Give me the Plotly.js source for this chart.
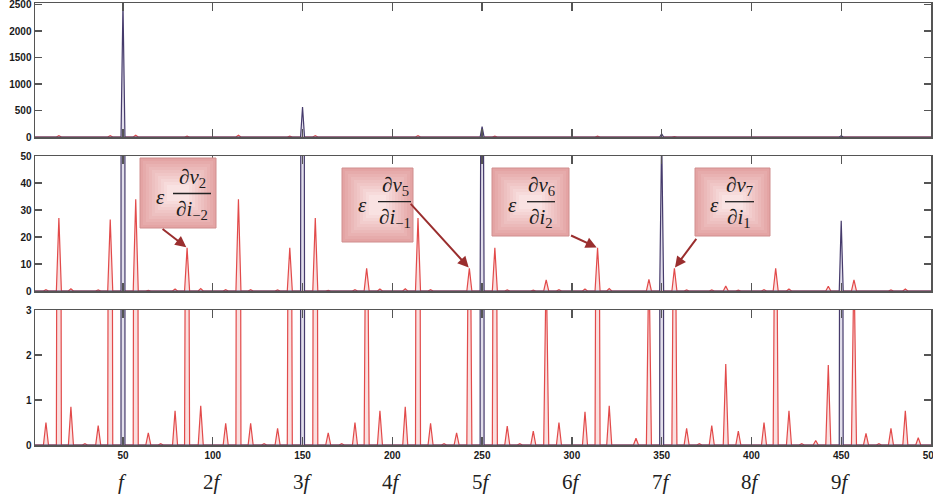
<!DOCTYPE html>
<html><head><meta charset="utf-8">
<script src="https://cdn.plot.ly/plotly-3.0.1.min.js"></script>
<style>html,body{margin:0;padding:0;background:#fff;}</style>
</head><body><div id="chart" style="width:933px;height:495px;"></div>
<script>
// ---- data ----
const redFreq = [7.1,14.3,21.0,28.8,36.2,42.9,57.1,64.1,71,79,85.7,93.3,107.2,114.3,121.1,128.6,136.1,142.9,157.1,164.3,171.8,179.2,185.7,193.1,207.2,214.3,221.3,228.8,235.8,242.9,257.1,264.0,271,278.5,285.7,292.8,307.3,314.3,320.8,335.7,342.9,357.1,363.9,371,377.9,385.7,392.7,407.0,413.5,420.9,428,435.8,442.8,457.1,463.8,471,477.7,485.7,492.9];
const redAmp  = [0.50,27,0.85,0.03,0.43,26.5,34,0.27,0.03,0.76,16,0.87,0.48,34,0.48,0.03,0.37,16,27,0.27,0.03,0.50,8.4,0.76,0.85,27,0.48,0.03,0.27,8.4,16,0.42,0.03,0.31,4.1,0.50,0.74,16,0.87,0.15,4.3,8.4,0.37,0.03,0.43,1.8,0.31,0.50,8.4,0.76,0.03,0.10,1.78,4.1,0.26,0.03,0.37,0.76,0.16];
const blueFreq = [50,150,250,350,450];
const blueAmp  = [2520,566,195,58,26];
const harmonicFreq = [50,100,150,200,250,300,350,400,450];
const harmonicLabels = ['<i>f</i>','2<i>f</i>','3<i>f</i>','4<i>f</i>','5<i>f</i>','6<i>f</i>','7<i>f</i>','8<i>f</i>','9<i>f</i>'];
const xTickVals = [50,100,150,200,250,300,350,400,450,500];
const topTicks = [0,500,1000,1500,2000,2500];
const midTicks = [0,10,20,30,40,50];
const lowTicks = [0,1,2,3];
const calloutFreq = [85.7,242.9,314.3,357.1];
const calloutNum = ['∂<i>v</i><sub>2</sub>','∂<i>v</i><sub>5</sub>','∂<i>v</i><sub>6</sub>','∂<i>v</i><sub>7</sub>'];
const calloutDen = ['∂<i>i</i><sub>−2</sub>','∂<i>i</i><sub>−1</sub>','∂<i>i</i><sub>2</sub>','∂<i>i</i><sub>1</sub>'];

// ---- styling / layout helpers ----
const W=933,H=495,L=35,R=2,T=3,B=50;
const PW=W-L-R, PH=H-T-B;
const px2x = p => (p-L)/PW;
const py2y = p => (H-B-p)/PH;

function spectrum(freq, amp, w){
  const xs=[1], ys=[0];
  freq.forEach((f,i)=>{ xs.push(f-w,f,f+w); ys.push(0,amp[i],0); });
  xs.push(500); ys.push(0);
  return {xs,ys};
}
const red = spectrum(redFreq, redAmp, 1.4);
const blue = spectrum(blueFreq, blueAmp, 1.1);

const axesPairs = [['x','y'],['x2','y2'],['x3','y3']];
const traces=[];
axesPairs.forEach(([xa,ya])=>{
  traces.push({x:red.xs,y:red.ys,xaxis:xa,yaxis:ya,type:'scatter',mode:'lines',
    line:{color:'#e24a4a',width:1.2},fill:'tozeroy',fillcolor:'rgba(240,165,165,0.35)',hoverinfo:'skip'});
  traces.push({x:blue.xs,y:blue.ys,xaxis:xa,yaxis:ya,type:'scatter',mode:'lines',
    line:{color:'#463b6c',width:1.2},fill:'tozeroy',fillcolor:'rgba(190,185,210,0.45)',hoverinfo:'skip'});
});

const tickFont={family:'Liberation Sans, Arial, sans-serif',size:10,color:'#1a1a1a',weight:'bold'};
function xax(anchor, labels){
  const a = {anchor, range:[1,500], tickvals:xTickVals, ticks:'inside', ticklen:8, tickwidth:1.3, tickcolor:'#555',
    showline:true, linecolor:'#555', linewidth:1.5, mirror:'ticks', showgrid:false, zeroline:false,
    showticklabels:labels, tickfont:tickFont, ticklabeloverflow:'allow'};
  if(anchor!=='y') a.matches='x';
  return a;
}
function yax(domain, range, tv){
  return {domain, range, tickvals:tv, ticks:'inside', ticklen:7, tickwidth:1.3, tickcolor:'#555',
    showline:true, linecolor:'#555', linewidth:1.5, mirror:'ticks', showgrid:false, zeroline:false,
    tickfont:tickFont, fixedrange:true, ticklabeloverflow:'allow'};
}

const layout={
  width:W,height:H,margin:{l:L,r:R,t:T,b:B},paper_bgcolor:'#fff',plot_bgcolor:'#fff',showlegend:false,
  xaxis:xax('y',false), yaxis:yax([py2y(137),1],[0,2530],topTicks),
  xaxis2:xax('y2',false), yaxis2:yax([py2y(291),py2y(156)],[0,50],midTicks),
  xaxis3:xax('y3',true), yaxis3:yax([0,py2y(310)],[0,3],lowTicks),
  shapes:[], annotations:[]
};

// harmonic labels under the x axis
harmonicFreq.forEach((f,i)=>{
  layout.annotations.push({x:f,xref:'x3',y:py2y(482),yref:'paper',xanchor:'center',yanchor:'middle',
    text:harmonicLabels[i],showarrow:false,
    font:{family:'Liberation Serif, DejaVu Serif, serif',size:21,color:'#222'}});
});

// callout boxes (pixel geometry = style)
const boxes=[
  {b:[140,216,158,228], cx:192, ly:193.5, lx:[173,211], ex:160},
  {b:[342,413,168,242], cx:395, ly:201.7, lx:[378,411], ex:362},
  {b:[492,569,168,236], cx:541, ly:201.7, lx:[527,555], ex:512},
  {b:[695,770,168,236], cx:739, ly:201.7, lx:[725,754], ex:714}
];
const arrowTail=[[-26,-20],[-60,-66],[-28,-13],[23,-31]];
const nL=10;
boxes.forEach((bx,i)=>{
  const [x0,x1,y0,y1]=bx.b;
  for(let k=0;k<nL;k++){
    const t=k/(nL-1);
    const ins = k*3.0;
    const iy = Math.min(ins, (y1-y0)/2-3);
    const r=Math.round(228+(249-228)*t), g=Math.round(164+(226-164)*t), b=Math.round(164+(226-164)*t);
    layout.shapes.push({type:'rect',xref:'paper',yref:'paper',x0:px2x(x0+ins),x1:px2x(x1-ins),y0:py2y(y1-iy),y1:py2y(y0+iy),
      fillcolor:`rgb(${r},${g},${b})`,line:{width:k===0?1:0,color:'#d08e8e'},layer:'above'});
  }
  layout.shapes.push({type:'line',xref:'paper',yref:'paper',x0:px2x(bx.lx[0]),x1:px2x(bx.lx[1]),y0:py2y(bx.ly),y1:py2y(bx.ly),
    line:{color:'#222',width:1.3},layer:'above'});
  const f={family:'Liberation Serif, DejaVu Serif, serif',size:21,color:'#1c1c1c'};
  layout.annotations.push({xref:'paper',yref:'paper',x:px2x(bx.ex),y:py2y(bx.ly+3),xanchor:'center',yanchor:'middle',
    text:'<i>ε</i>',showarrow:false,font:f});
  layout.annotations.push({xref:'paper',yref:'paper',x:px2x(bx.cx),y:py2y(bx.ly-1),xanchor:'center',yanchor:'bottom',
    text:calloutNum[i],showarrow:false,font:f});
  layout.annotations.push({xref:'paper',yref:'paper',x:px2x(bx.cx),y:py2y(bx.ly+1),xanchor:'center',yanchor:'top',
    text:calloutDen[i],showarrow:false,font:f});
  const idx = redFreq.indexOf(calloutFreq[i]);
  layout.annotations.push({xref:'x2',yref:'y2',x:calloutFreq[i],y:redAmp[idx],text:'',showarrow:true,
    ax:arrowTail[i][0],ay:arrowTail[i][1],arrowcolor:'#9a2e2e',arrowwidth:2,arrowhead:2,arrowsize:1.1,standoff:1});
});

Plotly.newPlot('chart',traces,layout,{displayModeBar:false,staticPlot:true});
</script></body></html>
